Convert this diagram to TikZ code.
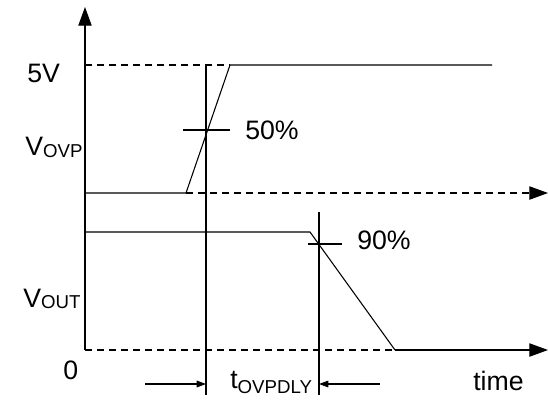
\documentclass[tikz,border=0pt]{standalone}
\usepackage{fontspec}
\setmainfont{Liberation Sans}
\usetikzlibrary{arrows.meta,positioning}
\newcommand{\subtxt}[1]{{\fontsize{14}{15}\selectfont #1}}
\begin{document}
\begin{tikzpicture}[
  x=0.75pt, y=-0.75pt,
  font=\fontsize{20}{22}\selectfont,
  wave/.style={line width=0.8pt, black},
  guide/.style={wave, dash pattern=on 5.25pt off 3.75pt},
  axisarrow/.style={-{Triangle[length=14pt,width=10pt]}},
  delayarrow/.style={wave, -{Triangle[length=7pt,width=5pt]}},
  lab/.style={inner sep=0pt, anchor=west},
]
\useasboundingbox (0,0) rectangle (548,401);
% key points
\coordinate (origin) at (85,350);
\coordinate (ytip) at (85,7);
\coordinate (ovplow) at (186,193);
\coordinate (ovphigh) at (230,65);
\coordinate (ovpend) at (492,65);
\coordinate (outhigh) at (310,232);
\coordinate (outlow) at (395,350);
\coordinate (tA) at (206,65);
\coordinate (tAbot) at (206,395);
\coordinate (tB) at (319,212);
\coordinate (tBbot) at (319,395);
% axes and guides
\draw[wave, axisarrow] (origin) -- (ytip);
\draw[guide] (85,65) -- (ovphigh);
\draw[guide, axisarrow] (ovplow) -- (548,193);
\draw[guide] (origin) -- (outlow);
\draw[wave, axisarrow] (outlow) -- (548,350);
% V_OVP trace
\draw[wave] (85,193) -- (ovplow) -- (ovphigh) -- (ovpend);
% V_OUT trace
\draw[wave] (85,232) -- (outhigh) -- (outlow);
% time markers
\draw[wave] (tA) -- (tAbot);
\draw[wave] (tB) -- (tBbot);
\draw[wave] (183,130) -- (230,130);
\draw[wave] (308,244) -- (342,244);
\draw[delayarrow] (145,384) -- (tA |- 0,384);
\draw[delayarrow] (380,384) -- (tB |- 0,384);
% labels
\node[lab] (fifty) at (245,130) {50\%};
\node[lab] (ninety) at (357,240) {90\%};
\node[lab] (fivev) at (27,73) {5V};
\node[lab, anchor=base west] (vovp) at (25,155) {V\subtxt{\raisebox{-2pt}{OVP}}};
\node[lab, anchor=base west] (vout) at (23,307) {V\subtxt{\raisebox{-1pt}{OUT}}};
\node[lab] (zero) at (63,370) {0};
\node[lab, anchor=base west] (tdly) at (230,388) {t\subtxt{\raisebox{-4pt}{OVPDLY}}};
\node[lab] (time) at (473,381) {time};
\end{tikzpicture}
\end{document}
